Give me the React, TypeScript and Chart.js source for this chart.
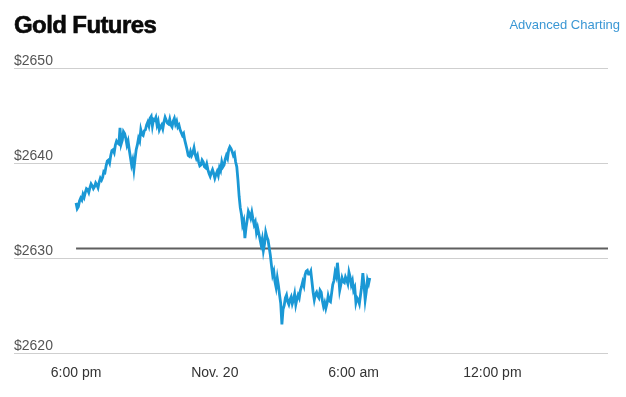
import React, { useEffect, useRef } from "react";
import { Chart, registerables } from "chart.js";

Chart.register(...registerables);

const TITLE = "Gold Futures";
const LINK = "Advanced Charting";
// minutes after 6:00 pm for each x tick
const X_TICKS = [0, 360, 720, 1080];
const X_LABELS = ["6:00 pm", "Nov. 20", "6:00 am", "12:00 pm"];
const Y_TICKS = [2620, 2630, 2640, 2650];
const Y_LABELS = ["$2620", "$2630", "$2640", "$2650"];
const PREV_CLOSE = 2631.0;
const STEP_MIN = 3; // minutes between samples
const PRICES = [
  2635.8, 2635.2, 2635.4, 2636.0, 2636.3, 2636.1, 2636.7, 2636.4, 2636.9, 2637.3,
  2637.2, 2636.9, 2637.4, 2637.8, 2637.6, 2637.3, 2637.5, 2637.9, 2637.7, 2637.4,
  2638.0, 2638.4, 2638.2, 2638.5, 2639.1, 2639.0, 2639.7, 2640.2, 2640.3, 2640.0,
  2640.8, 2641.3, 2641.4, 2641.1, 2641.9, 2642.3, 2642.1, 2642.0, 2643.7, 2642.0,
  2642.4, 2643.3, 2643.1, 2642.6, 2641.9, 2642.3, 2641.4, 2640.6, 2639.8, 2640.3,
  2639.3, 2640.4, 2641.4, 2641.9, 2642.6, 2642.3, 2643.5, 2643.0, 2642.9, 2643.4,
  2643.5, 2644.0, 2644.3, 2643.9, 2644.7, 2644.9, 2643.9, 2644.6, 2644.5, 2644.8,
  2644.0, 2644.4, 2643.5, 2643.8, 2644.0, 2643.6, 2644.3, 2644.8, 2644.5, 2644.2,
  2644.1, 2644.6, 2644.0, 2643.8, 2644.4, 2644.7, 2644.1, 2644.4, 2643.8, 2644.0,
  2643.5, 2643.2, 2642.9, 2643.1, 2642.4, 2641.9, 2641.4, 2640.8, 2640.7, 2641.2,
  2640.8, 2641.1, 2641.6, 2640.9, 2640.5, 2640.8, 2640.1, 2639.7, 2639.8, 2640.3,
  2640.1, 2639.6, 2639.5, 2639.9, 2639.3, 2638.9, 2638.6, 2639.0, 2639.3, 2638.9,
  2638.4, 2638.8, 2639.1, 2638.7, 2639.5, 2639.2, 2640.1, 2639.6, 2639.8, 2640.4,
  2640.8, 2640.5, 2641.4, 2641.7, 2641.5, 2641.2, 2640.8, 2641.0, 2640.1, 2639.6,
  2638.2, 2636.5, 2635.3, 2634.6, 2633.5, 2633.9, 2632.1, 2633.2, 2634.0, 2634.9,
  2634.6, 2634.2, 2634.8, 2634.1, 2633.5, 2633.8, 2632.7, 2633.2, 2632.6, 2632.0,
  2631.4, 2632.0, 2630.8, 2631.5, 2632.7, 2632.2, 2631.9, 2631.1, 2630.3, 2629.2,
  2628.2, 2628.6, 2627.5, 2626.9, 2627.9, 2627.1, 2626.1, 2625.2, 2623.0, 2624.6,
  2625.0, 2625.8, 2626.1, 2625.4, 2625.1, 2625.6, 2625.9, 2625.2, 2625.6, 2626.2,
  2625.1, 2625.7, 2626.1, 2625.8, 2626.6, 2627.0, 2627.5, 2627.1, 2628.2, 2628.6,
  2628.7, 2628.3, 2628.3, 2628.6, 2627.5, 2626.4, 2625.6, 2626.2, 2626.4, 2626.0,
  2625.8, 2626.6, 2626.4, 2625.5, 2624.9, 2625.3, 2624.7, 2625.2, 2626.0, 2625.5,
  2625.4, 2626.3, 2627.2, 2627.6, 2628.5, 2628.1, 2629.5, 2628.2, 2626.6, 2627.2,
  2627.9, 2627.5, 2627.4, 2628.0, 2627.7, 2627.3, 2628.5, 2628.0, 2627.2, 2627.6,
  2626.6, 2626.9, 2625.3, 2625.8, 2625.6, 2625.2, 2626.1, 2627.0, 2628.4, 2627.2,
  2625.6, 2626.5, 2627.7, 2627.3, 2627.9,
];
const X_MIN = -161;
const X_MAX = 1380;

const textPlugin = {
  id: "textPlugin",
  afterDraw(chart: any) {
    const ctx = chart.ctx as CanvasRenderingContext2D;
    const xs = chart.scales.x;
    const ys = chart.scales.y;
    ctx.save();
    // title
    ctx.fillStyle = "#0a0a0a";
    ctx.font = "bold 24px 'Liberation Sans', Arial, sans-serif";
    (ctx as any).letterSpacing = "-0.6px";
    ctx.textAlign = "left";
    ctx.textBaseline = "alphabetic";
    ctx.fillText(TITLE, 14, 33);
    ctx.strokeStyle = "#0a0a0a";
    ctx.lineWidth = 0.6;
    ctx.strokeText(TITLE, 14, 33);
    (ctx as any).letterSpacing = "0px";
    // link
    ctx.fillStyle = "#3a97d4";
    ctx.font = "13px 'Liberation Sans', Arial, sans-serif";
    ctx.textAlign = "right";
    ctx.fillText(LINK, 620, 29);
    // y labels
    ctx.fillStyle = "#555";
    ctx.font = "14px 'Liberation Sans', Arial, sans-serif";
    ctx.textAlign = "left";
    Y_TICKS.forEach((v, i) => {
      ctx.fillText(Y_LABELS[i], 14, ys.getPixelForValue(v) - 3);
    });
    // x labels
    ctx.fillStyle = "#333";
    ctx.textAlign = "center";
    X_TICKS.forEach((m, i) => {
      ctx.fillText(X_LABELS[i], xs.getPixelForValue(m), 377);
    });
    ctx.restore();
  },
};

export default function App() {
  const ref = useRef<HTMLCanvasElement | null>(null);
  useEffect(() => {
    document.body.style.margin = "0";
    const canvas = ref.current!;
    const chart = new Chart(canvas, {
      type: "line",
      data: {
        datasets: [
          {
            data: PRICES.map((p, i) => ({ x: i * STEP_MIN, y: p })),
            borderColor: "#1a98d5",
            borderWidth: 2.8,
            pointRadius: 0,
            tension: 0,
            order: 0,
          },
          {
            data: [
              { x: 0, y: PREV_CLOSE },
              { x: X_MAX, y: PREV_CLOSE },
            ],
            borderColor: "#5f5f5f",
            borderWidth: 2,
            pointRadius: 0,
            order: 1,
          },
        ],
      },
      options: {
        responsive: false,
        animation: false,
        devicePixelRatio: 1,
        layout: { padding: { left: 14, right: 18, top: 68, bottom: 44 } },
        plugins: { legend: { display: false }, tooltip: { enabled: false } },
        scales: {
          x: { type: "linear", min: X_MIN, max: X_MAX, display: false },
          y: {
            min: 2620,
            max: 2650,
            afterBuildTicks: (s: any) => {
              s.ticks = Y_TICKS.map((v) => ({ value: v }));
            },
            ticks: { display: false },
            grid: { color: "#cfcfcf", lineWidth: 1, drawTicks: false },
            border: { display: false },
          },
        },
      },
      plugins: [textPlugin],
    } as any);
    return () => chart.destroy();
  }, []);
  return (
    <div style={{ width: 626, height: 397, background: "#fff" }}>
      <canvas ref={ref} width={626} height={397} style={{ display: "block" }} />
    </div>
  );
}
